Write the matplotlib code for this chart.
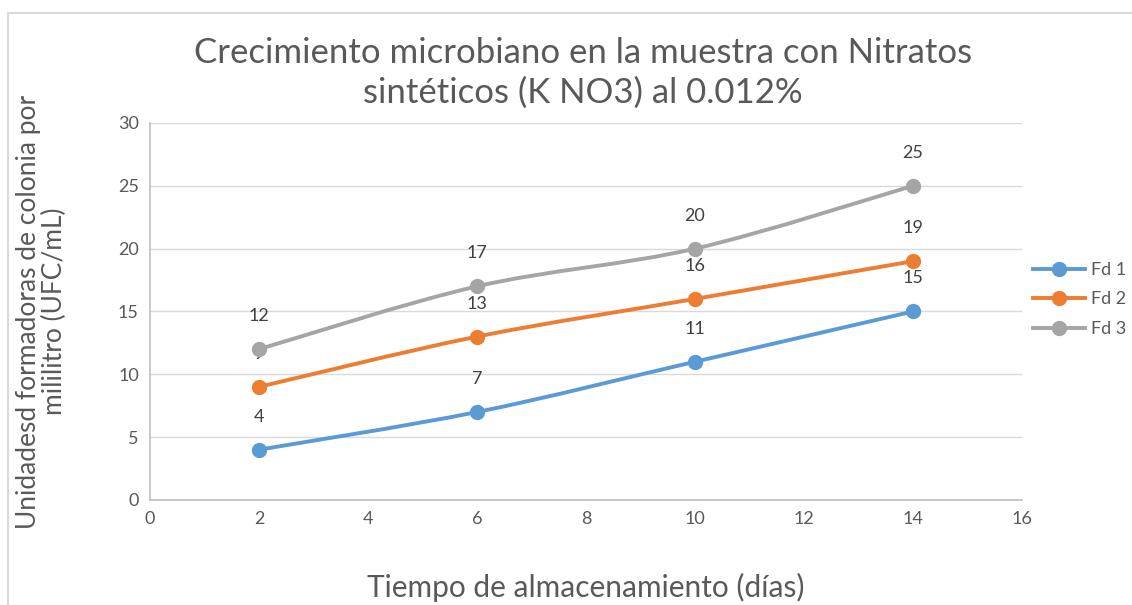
import matplotlib
matplotlib.use("Agg")
import matplotlib.pyplot as plt
from matplotlib.path import Path
from matplotlib.patches import PathPatch
from matplotlib.lines import Line2D
import numpy as np

dias = [2, 6, 10, 14]
fd1 = [4, 7, 11, 15]
fd2 = [9, 13, 16, 19]
fd3 = [12, 17, 20, 25]
series = ['Fd 1', 'Fd 2', 'Fd 3']
colores = ['#5B9BD5', '#ED7D31', '#A5A5A5']

plt.rcParams['font.family'] = ['Lato', 'DejaVu Sans']
txt = '#595959'


def smooth_path(x, y, t=1/6.):
    # bezier smoothing like excel "smoothed line"
    x = np.asarray(x, float)
    y = np.asarray(y, float)
    verts = [(x[0], y[0])]
    codes = [Path.MOVETO]
    n = len(x)
    for i in range(n - 1):
        x0, y0 = (x[i - 1], y[i - 1]) if i > 0 else (x[i], y[i])
        x3, y3 = (x[i + 2], y[i + 2]) if i + 2 < n else (x[i + 1], y[i + 1])
        c1 = (x[i] + (x[i + 1] - x0) * t, y[i] + (y[i + 1] - y0) * t)
        c2 = (x[i + 1] - (x3 - x[i]) * t, y[i + 1] - (y3 - y[i]) * t)
        verts += [c1, c2, (x[i + 1], y[i + 1])]
        codes += [Path.CURVE4] * 3
    return Path(verts, codes)


fig = plt.figure(figsize=(11.32, 6.05), dpi=100)
ax = fig.add_axes([0.1325, 0.1736, 0.7703, 0.6231])

for nombre, vals, col in zip(series, [fd1, fd2, fd3], colores):
    ax.add_patch(PathPatch(smooth_path(dias, vals), fill=False, ec=col, lw=2.8,
                           capstyle='round', zorder=3))
    ax.plot(dias, vals, 'o', color=col, ms=10, zorder=4)
    for xv, yv in zip(dias, vals):
        ax.annotate(str(yv), (xv, yv), xytext=(0, 18), textcoords='offset points',
                    ha='center', va='bottom', fontsize=13, color='#404040')

ax.set_xlim(0, 16)
ax.set_ylim(0, 30)
ax.set_xticks(range(0, 17, 2))
ax.set_yticks(range(0, 31, 5))
ax.grid(axis='y', color='#D9D9D9', lw=1)
ax.set_axisbelow(True)
for s in ['top', 'right']:
    ax.spines[s].set_visible(False)
ax.spines['left'].set_color('#BFBFBF')
ax.spines['bottom'].set_color('#BFBFBF')
ax.spines['left'].set_linewidth(1.2)
ax.spines['bottom'].set_linewidth(1.2)
ax.tick_params(length=0, labelsize=13, colors=txt, pad=8)

ax.set_xlabel('Tiempo de almacenamiento (días)', fontsize=21.5, color=txt, labelpad=33)
ax.set_ylabel('Unidadesd formadoras de colonia por\nmililitro (UFC/mL)', fontsize=19,
              color=txt, labelpad=37, linespacing=1.05)
fig.text(0.515, 0.88, 'Crecimiento microbiano en la muestra con Nitratos\nsintéticos (K NO3) al 0.012%',
         ha='center', va='center', fontsize=25, color=txt, linespacing=1.3)

handles = [Line2D([0], [0], color=c, lw=2.8, marker='o', ms=10) for c in colores]
fig.legend(handles, series, loc='center left', bbox_to_anchor=(0.898, 0.505), frameon=False,
           fontsize=13, labelcolor=txt, handlelength=2.9, handletextpad=0.3, labelspacing=0.75)

fig.patches.append(plt.Rectangle((8 / 1132, -0.05), 1.2, 1 - 13 / 605 + 0.05,
                                 transform=fig.transFigure, fill=False, ec='#D9D9D9', lw=1.5))
fig.savefig('out.png', dpi=100)
